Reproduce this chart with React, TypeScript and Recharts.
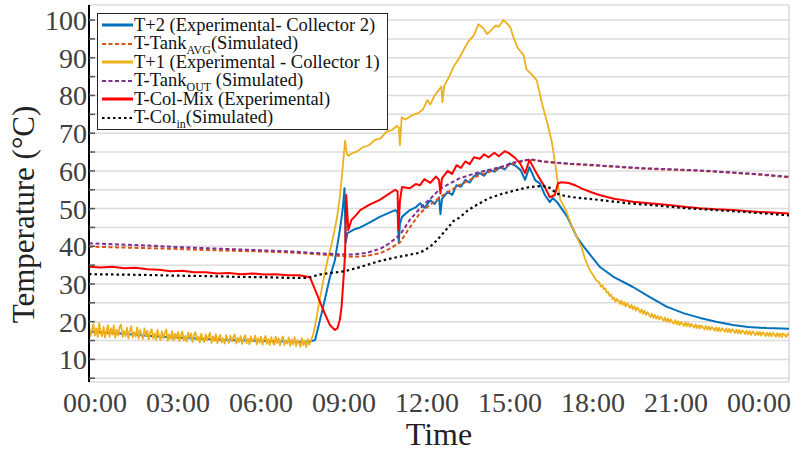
import React from 'react';
import { LineChart, Line, XAxis, YAxis, CartesianGrid, Legend, Label } from 'recharts';

// [hour of day, temperature °C]
type Pt = [number, number];

const hourTicks = [0, 3, 6, 9, 12, 15, 18, 21, 24];
const tempTicks = [5, 10, 15, 20, 25, 30, 35, 40, 45, 50, 55, 60, 65, 70, 75, 80, 85, 90, 95, 100];

const t2Exp: Pt[] = [
  [0, 17.3], [0.5, 17.1], [1, 16.9], [1.5, 16.6], [2, 16.3], [2.5, 16.0], [3, 15.8], [3.5, 15.6],
  [4, 15.4], [4.5, 15.2], [5, 15.1], [5.5, 15.0], [6, 14.9], [6.5, 14.8], [7, 14.7], [7.5, 14.6],
  [7.75, 15.1], [8.0, 23], [8.26, 31.8], [8.43, 36.3], [8.6, 44.3], [8.7, 50], [8.76, 55.4],
  [8.8, 41], [8.86, 43.5], [9.1, 44.5], [9.3, 45], [9.6, 46.2], [9.97, 47.8], [10.2, 48.6],
  [10.5, 49.6], [10.58, 49], [10.62, 41], [10.66, 46], [10.73, 47.8], [11, 49.6], [11.2, 50.3],
  [11.35, 51.4], [11.5, 50.2], [11.7, 52.2], [11.85, 51.2], [12.0, 53], [12.05, 48.5], [12.1, 52.5],
  [12.3, 54.5], [12.45, 53.6], [12.6, 56.2], [12.75, 55.8], [12.9, 57.6], [13.05, 56.9], [13.2, 58.6],
  [13.4, 59.4], [13.55, 58.7], [13.7, 60.3], [13.9, 59.8], [14.1, 61], [14.25, 60.4], [14.43, 62],
  [14.6, 61.5], [14.8, 60.2], [14.95, 57.6], [15.1, 61], [15.3, 57.5], [15.46, 56.7], [15.63, 53.6],
  [15.8, 51.7], [15.9, 52.8], [16.05, 51.7], [16.4, 47.8], [16.73, 42.4], [17.0, 39.5], [17.52, 34.5],
  [18, 31.8], [18.65, 29.2], [19.23, 26.5], [19.8, 24], [20.4, 22.2], [20.95, 21], [21.5, 20],
  [22.08, 19.1], [22.6, 18.6], [23.24, 18.3], [24, 18.1],
];

const tankAvgSim: Pt[] = [
  [0, 39.9], [1, 39.7], [2, 39.5], [3, 39.3], [4, 39.0], [5, 38.8], [6, 38.6], [7, 38.3], [8, 37.8],
  [8.5, 37.5], [9, 37.2], [9.5, 37.4], [10, 38.2], [10.3, 39.3], [10.66, 41], [11, 45], [11.35, 48.8],
  [11.7, 51], [12.03, 53], [12.4, 54.8], [12.7, 56.2], [13.1, 57.8], [13.4, 58.9], [13.8, 59.9],
  [14.1, 60.7], [14.6, 62], [15, 62.8], [15.2, 62.9], [15.5, 62.5], [16, 62.1], [16.5, 61.8],
  [17, 61.6], [18, 61.1], [19, 60.6], [20, 60.3], [21, 60], [22, 59.5], [23, 59], [24, 58.3],
];

const t1Exp: Pt[] = [
  [0.0, 18.9], [0.05, 16.1], [0.1, 17.8], [0.15, 19.4], [0.2, 16.3], [0.25, 18.2], [0.3, 15.9], [0.35, 19.6],
  [0.4, 17.0], [0.45, 16.2], [0.5, 18.7], [0.55, 15.8], [0.6, 17.4], [0.65, 19.1], [0.7, 16.0], [0.75, 18.3],
  [0.8, 16.6], [0.85, 19.0], [0.9, 15.7], [0.95, 17.9], [1.0, 16.3], [1.05, 18.6], [1.1, 19.3], [1.15, 15.9],
  [1.2, 17.5], [1.25, 16.1], [1.3, 18.4], [1.35, 15.6], [1.4, 17.7], [1.45, 18.8], [1.5, 15.8], [1.55, 17.2],
  [1.6, 16.0], [1.65, 18.5], [1.7, 15.5], [1.75, 17.9], [1.8, 16.4], [1.85, 15.4], [1.9, 18.2], [1.95, 16.2],
  [2.0, 17.6], [2.05, 15.3], [2.1, 17.1], [2.15, 18.0], [2.2, 15.5], [2.25, 16.9], [2.3, 15.2], [2.35, 17.8],
  [2.4, 16.3], [2.45, 15.1], [2.5, 17.4], [2.55, 15.6], [2.6, 17.0], [2.65, 17.9], [2.7, 14.9], [2.75, 16.6],
  [2.8, 15.4], [2.85, 17.5], [2.9, 15.0], [2.95, 16.8], [3.0, 15.7], [3.05, 17.3], [3.1, 14.8], [3.15, 16.5],
  [3.2, 17.4], [3.25, 15.0], [3.3, 16.2], [3.35, 14.7], [3.4, 17.1], [3.45, 15.6], [3.5, 16.9], [3.55, 14.6],
  [3.6, 16.4], [3.65, 17.2], [3.7, 15.1], [3.75, 16.0], [3.8, 14.5], [3.85, 16.8], [3.9, 15.3], [3.95, 14.6],
  [4.0, 16.6], [4.05, 15.0], [4.1, 16.2], [4.15, 17.0], [4.2, 14.4], [4.25, 16.1], [4.3, 14.9], [4.35, 16.7],
  [4.4, 14.3], [4.45, 15.8], [4.5, 16.5], [4.55, 14.5], [4.6, 15.6], [4.65, 14.2], [4.7, 16.4], [4.75, 15.2],
  [4.8, 14.4], [4.85, 16.3], [4.9, 14.8], [4.95, 15.9], [5.0, 16.6], [5.05, 14.2], [5.1, 15.7], [5.15, 14.6],
  [5.2, 16.2], [5.25, 14.1], [5.3, 15.4], [5.35, 16.4], [5.4, 14.3], [5.45, 15.5], [5.5, 14.0], [5.55, 16.1],
  [5.6, 14.7], [5.65, 15.2], [5.7, 16.3], [5.75, 14.0], [5.8, 15.6], [5.85, 14.4], [5.9, 16.0], [5.95, 13.9],
  [6.0, 15.3], [6.05, 16.2], [6.1, 14.1], [6.15, 15.4], [6.2, 13.8], [6.25, 15.9], [6.3, 14.5], [6.35, 13.9],
  [6.4, 16.0], [6.45, 14.3], [6.5, 15.6], [6.55, 13.7], [6.6, 15.2], [6.65, 16.1], [6.7, 13.8], [6.75, 15.0],
  [6.8, 14.2], [6.85, 15.8], [6.9, 13.6], [6.95, 15.3], [7.0, 14.0], [7.05, 15.9], [7.1, 13.5], [7.15, 15.1],
  [7.2, 14.4], [7.25, 13.3], [7.3, 15.6], [7.35, 13.8], [7.4, 15.0], [7.45, 13.2], [7.5, 15.4], [7.55, 13.9],
  [7.6, 14.8],
  [7.7, 17], [7.8, 21], [7.9, 25.5], [8.0, 29.5], [8.1, 33.5], [8.2, 37], [8.3, 40], [8.4, 43.5],
  [8.5, 47.5], [8.6, 53], [8.7, 61], [8.78, 68], [8.84, 64.5], [8.9, 64], [9.0, 64.6], [9.2, 65.2],
  [9.4, 66.3], [9.6, 66.8], [9.8, 68.2], [10.0, 68.6], [10.2, 70.4], [10.4, 70.9], [10.55, 71.9],
  [10.62, 71.5], [10.66, 66.8], [10.72, 74.2], [10.85, 73.6], [11.1, 74.8], [11.3, 75.4], [11.45, 76.3],
  [11.6, 78.8], [11.7, 77.6], [11.85, 80], [12.0, 81.5], [12.08, 82.4], [12.12, 78.2], [12.18, 82.6],
  [12.35, 85], [12.5, 87.6], [12.7, 90], [12.85, 92.2], [13.0, 94.2], [13.2, 96], [13.35, 98.9],
  [13.5, 98], [13.65, 96.3], [13.8, 97.4], [13.95, 98.6], [14.05, 98.2], [14.2, 100], [14.3, 99.4],
  [14.45, 98], [14.55, 95.5], [14.7, 92.6], [14.9, 90.7], [15.0, 86.9], [15.2, 85.4], [15.35, 84],
  [15.57, 76.7], [15.72, 72.5], [15.87, 67.6], [16.0, 61], [16.15, 52.5], [16.35, 49.5], [16.55, 45.5],
  [16.75, 42], [16.9, 39.5],
  [17.0, 36.8], [17.1, 34.9], [17.2, 33.3], [17.3, 32.2], [17.4, 30.9], [17.5, 30.4], [17.55, 29.3],
  [17.6, 29.7], [17.65, 28.6], [17.7, 28.9], [17.75, 27.7], [17.8, 27.9], [17.85, 26.8], [17.9, 27.2],
  [17.95, 26.0], [18.0, 26.4], [18.05, 25.3], [18.1, 26.0], [18.15, 25.5], [18.2, 24.7], [18.25, 25.6],
  [18.3, 24.5], [18.35, 25.2], [18.4, 24.0], [18.45, 24.9], [18.5, 24.3], [18.55, 23.6], [18.6, 24.5],
  [18.65, 23.3], [18.7, 24.1], [18.75, 22.9], [18.8, 23.8], [18.85, 23.2], [18.9, 22.4], [18.95, 23.3],
  [19.0, 22.1], [19.05, 22.9], [19.1, 21.8], [19.15, 22.5], [19.2, 21.9], [19.25, 21.2], [19.3, 22.1],
  [19.35, 21.0], [19.4, 21.8], [19.45, 20.8], [19.5, 21.5], [19.55, 20.6], [19.6, 21.3], [19.65, 20.9],
  [19.7, 20.2], [19.75, 21.1], [19.8, 20.0], [19.85, 20.8], [19.9, 19.8], [19.95, 20.6], [20.0, 19.9],
  [20.05, 19.5], [20.1, 20.4], [20.15, 19.3], [20.2, 20.1], [20.25, 19.1], [20.3, 19.9], [20.35, 19.4],
  [20.4, 18.9], [20.45, 19.8], [20.5, 18.8], [20.55, 19.6], [20.6, 18.6], [20.65, 19.4], [20.7, 18.9],
  [20.75, 18.4], [20.8, 19.3], [20.85, 18.3], [20.9, 19.1], [20.95, 18.2], [21.0, 19.0], [21.05, 18.5],
  [21.1, 18.0], [21.15, 18.9], [21.2, 17.9], [21.25, 18.7], [21.3, 17.8], [21.35, 18.6], [21.4, 18.2],
  [21.45, 17.6], [21.5, 18.5], [21.55, 17.5], [21.6, 18.4], [21.65, 17.4], [21.7, 18.3], [21.75, 17.9],
  [21.8, 17.3], [21.85, 18.2], [21.9, 17.2], [21.95, 18.1], [22.0, 17.1], [22.05, 18.0], [22.1, 17.6],
  [22.15, 17.0], [22.2, 17.9], [22.25, 16.9], [22.3, 17.8], [22.35, 16.8], [22.4, 17.7], [22.45, 17.3],
  [22.5, 16.7], [22.55, 17.6], [22.6, 16.6], [22.65, 17.5], [22.7, 16.5], [22.75, 17.4], [22.8, 17.0],
  [22.85, 16.4], [22.9, 17.3], [22.95, 16.4], [23.0, 17.3], [23.05, 16.3], [23.1, 17.2], [23.15, 16.8],
  [23.2, 16.2], [23.25, 17.1], [23.3, 16.2], [23.35, 17.1], [23.4, 16.1], [23.45, 17.0], [23.5, 16.6],
  [23.55, 16.0], [23.6, 17.0], [23.65, 16.0], [23.7, 16.9], [23.75, 15.9], [23.8, 16.9], [23.85, 16.5],
  [23.9, 15.9], [23.95, 16.8], [24.0, 16.4],
];

const tankOutSim: Pt[] = [
  [0, 40.8], [1, 40.5], [2, 40.2], [3, 39.8], [4, 39.5], [5, 39.2], [6, 38.9], [7, 38.6], [8, 38.1],
  [8.5, 37.9], [9, 37.8], [9.5, 38.2], [10, 39.4], [10.3, 40.8], [10.66, 43], [11, 47], [11.35, 50.1],
  [11.7, 52.6], [12.03, 55.2], [12.4, 56.8], [12.7, 58], [13.1, 59], [13.4, 59.7], [13.8, 60.4],
  [14.1, 61], [14.6, 62.3], [15, 62.9], [15.2, 63], [15.5, 62.6], [16, 62.2], [16.5, 61.9],
  [17, 61.7], [18, 61.2], [19, 60.7], [20, 60.4], [21, 60.1], [22, 59.6], [23, 59.1], [24, 58.4],
];

const colMixExp: Pt[] = [
  [0, 34.6], [0.4, 34.4], [0.8, 34.6], [1.2, 34.2], [1.6, 34.3], [2, 33.9], [2.4, 33.8], [2.8, 33.4],
  [3.2, 33.5], [3.6, 33.1], [4, 33.1], [4.4, 32.8], [4.8, 32.9], [5.2, 32.6], [5.6, 32.8], [6, 32.5],
  [6.4, 32.6], [6.8, 32.3], [7.2, 32.3], [7.5, 31.9], [7.58, 31.7], [7.8, 27.6], [8.03, 23.1],
  [8.26, 19.1], [8.43, 17.8], [8.52, 18.3], [8.6, 20.5], [8.66, 24], [8.74, 33], [8.78, 38],
  [8.82, 53.6], [8.89, 44.3], [9.0, 47], [9.15, 48.2], [9.3, 49.6], [9.6, 51], [9.97, 52.3],
  [10.2, 53.5], [10.5, 55], [10.58, 54.5], [10.61, 44.3], [10.66, 52], [10.73, 55.7], [11, 55.4],
  [11.2, 56.5], [11.35, 56.2], [11.5, 57.8], [11.7, 56.8], [11.9, 58.5], [12.0, 57.6], [12.05, 54],
  [12.1, 58], [12.3, 60], [12.45, 59.2], [12.6, 61.5], [12.75, 60.8], [12.9, 62.5], [13.05, 61.8],
  [13.2, 63.6], [13.4, 63.2], [13.55, 64.4], [13.7, 63.6], [13.9, 64.8], [14.05, 63.9], [14.25, 65.2],
  [14.4, 64.7], [14.6, 63.5], [14.78, 62], [14.95, 59.4], [15.1, 62.9], [15.3, 60], [15.45, 58],
  [15.63, 55.7], [15.8, 53], [15.97, 53.6], [16.08, 56.7], [16.2, 57], [16.45, 56.8], [16.66, 56.2],
  [16.9, 55.3], [17.2, 54.4], [17.5, 53.6], [18, 52.6], [18.65, 51.8], [19.2, 51.4], [19.8, 51],
  [20.4, 50.5], [20.95, 50.1], [21.5, 49.8], [22.08, 49.6], [22.6, 49.3], [23.24, 49], [24, 48.7],
];

const colInSim: Pt[] = [
  [0, 32.6], [1, 32.5], [2, 32.4], [3, 32.2], [4, 32.1], [5, 31.9], [6, 31.8], [7, 31.6], [7.5, 31.6],
  [7.58, 31.8], [7.9, 32.5], [8.26, 32.9], [8.78, 33.4], [9.3, 34.5], [9.97, 36.1], [10.55, 37.1],
  [11.35, 38.3], [11.7, 39.9], [11.93, 41.6], [12.2, 44], [12.5, 46.7], [12.7, 47.6], [13, 49.6],
  [13.3, 51], [13.7, 52.7], [14.2, 54], [14.7, 55], [15.1, 55.7], [15.57, 56], [15.8, 55.5],
  [16.04, 54], [16.3, 53.4], [16.6, 53], [17.5, 52.3], [18.5, 51.4], [19.5, 50.8], [20.5, 50.1],
  [21.5, 49.6], [22.5, 49.1], [23.5, 48.5], [24, 48.2],
];

const serif = '"Liberation Serif", "Times New Roman", serif';

const rows = (pts: Pt[]) => pts.map(([h, v]) => ({ h, v }));

const series = [
  { key: 't2', pts: t2Exp, color: '#0072BD', width: 2, dash: undefined, label: 'T+2 (Experimental- Collector 2)', sub: '', tail: '' },
  { key: 'avg', pts: tankAvgSim, color: '#D95319', width: 2, dash: '4 2.5', label: 'T-Tank', sub: 'AVG', tail: '(Simulated)' },
  { key: 't1', pts: t1Exp, color: '#EDB120', width: 1.8, dash: undefined, label: 'T+1 (Experimental - Collector 1)', sub: '', tail: '' },
  { key: 'out', pts: tankOutSim, color: '#7E2F8E', width: 2, dash: '4 2.5', label: 'T-Tank', sub: 'OUT', tail: ' (Simulated)' },
  { key: 'mix', pts: colMixExp, color: '#FF0000', width: 2, dash: undefined, label: 'T-Col-Mix (Experimental)', sub: '', tail: '' },
  { key: 'in', pts: colInSim, color: '#000000', width: 2.2, dash: '2.5 3', label: 'T-Col', sub: 'in', tail: '(Simulated)' },
];

const hourLabel = (h: number) => `${String(h % 24).padStart(2, '0')}:00`;

const renderLegend = () => (
  <div
    style={{
      width: 291,
      border: '1.5px solid #262626',
      background: '#fff',
      padding: '2px 4px 2px 4px',
      fontFamily: serif,
      fontSize: 18.5,
      color: '#111',
      boxSizing: 'border-box',
    }}
  >
    {series.map((s) => (
      <div key={s.key} style={{ display: 'flex', alignItems: 'center', height: 18.5, whiteSpace: 'nowrap' }}>
        <svg width={31} height={6} style={{ marginRight: 1, flex: 'none' }}>
          <line x1={0} y1={3} x2={31} y2={3} stroke={s.color} strokeWidth={s.dash ? 2 : 3} strokeDasharray={s.dash} />
        </svg>
        <span style={{ lineHeight: '18px', fontFamily: serif }}>
          {s.label}
          {s.sub && <span style={{ fontSize: 12, position: 'relative', top: 5 }}>{s.sub}</span>}
          {s.tail}
        </span>
      </div>
    ))}
  </div>
);

const renderYLabel = (props: any) => {
  const vb = props.viewBox || { x: 0, y: 0, width: 0, height: 0 };
  const cx = vb.x + 23;
  const cy = vb.y + vb.height / 2 + 21;
  return (
    <text
      x={cx}
      y={cy}
      transform={`rotate(-90 ${cx} ${cy})`}
      textAnchor="middle"
      dominantBaseline="central"
      fontFamily={serif}
      fontSize={31}
      fill="#222"
    >
      Temperature (°C)
    </text>
  );
};

const App: React.FC = () => {
  return (
    <div style={{ position: 'absolute', left: 0, top: 0, background: '#fff' }}>
      <LineChart width={803} height={454} margin={{ top: 5, right: 14, left: 0, bottom: 0 }}>
        <CartesianGrid xAxisId={0} yAxisId="left" vertical={false} stroke="#dcdcdc" strokeWidth={1.5} />
        <CartesianGrid xAxisId={0} yAxisId="left" horizontal={false} stroke="#c6c6c6" strokeWidth={1} />
        <XAxis
          xAxisId={0}
          dataKey="h"
          type="number"
          domain={[0, 24]}
          ticks={hourTicks}
          allowDataOverflow
          height={0}
          tick={false}
          tickSize={-6}
          tickLine={{ stroke: '#555', strokeWidth: 1.5 }}
          axisLine={{ stroke: '#000', strokeWidth: 2 }}
        />
        <XAxis
          xAxisId="lbl"
          dataKey="h"
          type="number"
          domain={[0, 24]}
          ticks={hourTicks}
          allowDataOverflow
          padding={{ left: 6, right: 30 }}
          height={72}
          axisLine={false}
          tickLine={false}
          tickSize={0}
          tickMargin={10}
          tickFormatter={hourLabel}
          tick={{ fontSize: 28, fill: '#404040', fontFamily: serif }}
          interval={0}
        >
          <Label value="Time" position="insideBottom" offset={9} style={{ fontSize: 32, fill: '#222', fontFamily: serif }} />
        </XAxis>
        <XAxis
          xAxisId="top"
          orientation="top"
          dataKey="h"
          type="number"
          domain={[0, 24]}
          ticks={hourTicks}
          allowDataOverflow
          height={0}
          tick={false}
          tickSize={-6}
          tickLine={{ stroke: '#555', strokeWidth: 1.5 }}
          axisLine={{ stroke: '#000', strokeWidth: 2 }}
        />
        <YAxis
          yAxisId="left"
          type="number"
          domain={[4, 104]}
          ticks={tempTicks}
          allowDataOverflow
          width={89}
          interval={0}
          tickSize={-6}
          tickMargin={8}
          tickFormatter={(v: number) => (v % 10 === 0 ? String(v) : '')}
          tick={{ fontSize: 28, fill: '#404040', fontFamily: serif }}
          tickLine={{ stroke: '#555', strokeWidth: 1.5 }}
          axisLine={{ stroke: '#000', strokeWidth: 2 }}
        >
          <Label content={renderYLabel} />
        </YAxis>
        <YAxis
          yAxisId="right"
          orientation="right"
          type="number"
          domain={[4, 104]}
          ticks={tempTicks}
          allowDataOverflow
          width={0}
          interval={0}
          tick={false}
          tickSize={-6}
          tickLine={{ stroke: '#555', strokeWidth: 1.5 }}
          axisLine={{ stroke: '#000', strokeWidth: 2 }}
        />
        <Legend
          content={renderLegend}
          layout="horizontal"
          verticalAlign="middle"
          align="center"
          wrapperStyle={{ left: 97, top: 13, width: 291 }}
        />
        {series.map((s) => (
          <Line
            key={s.key}
            data={rows(s.pts)}
            dataKey="v"
            xAxisId={0}
            yAxisId="left"
            type="linear"
            stroke={s.color}
            strokeWidth={s.width}
            strokeDasharray={s.dash}
            strokeLinejoin="round"
            dot={false}
            activeDot={false}
            isAnimationActive={false}
          />
        ))}
      </LineChart>
    </div>
  );
};

export default App;
